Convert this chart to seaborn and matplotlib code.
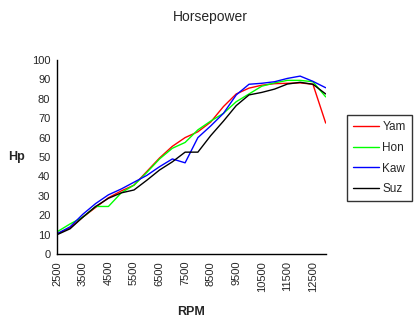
import matplotlib
matplotlib.use("Agg")
import matplotlib.pyplot as plt
import seaborn as sns
import pandas as pd

rpm = [2500, 3000, 3500, 4000, 4500, 5000, 5500, 6000, 6500, 7000, 7500,
       8000, 8500, 9000, 9500, 10000, 10500, 11000, 11500, 12000, 12500, 13000]
yam = [10.5, 13.5, 19, 24, 29, 32.5, 35.5, 42.5, 49.5, 55.5, 60,
       63, 68, 76, 82.5, 85.5, 87, 87.8, 88, 88.2, 87.5, 67.5]
hon = [11.5, 15.5, 19, 24.5, 24.5, 31.5, 35.5, 42, 49, 54.5, 57.5,
       64, 68.5, 72.5, 78.5, 82.5, 86.5, 88.2, 89.5, 89.5, 88.8, 81]
kaw = [10.5, 14, 20.5, 26, 30.5, 33.5, 37, 40.5, 45, 49, 47,
       60, 66, 72.5, 82, 87.5, 88, 88.8, 90.5, 91.7, 89, 85.7]
suz = [10, 13, 19, 24.5, 28.7, 31.5, 33, 38, 43.3, 47.5, 52.5,
       52.5, 61, 68.5, 76.5, 82, 83.3, 85, 87.6, 88.5, 87.5, 82.5]
series = ["Yam", "Hon", "Kaw", "Suz"]
colors = ["#FF0000", "#00FF00", "#0000FF", "#000000"]

rows = []
for name, vals in zip(series, [yam, hon, kaw, suz]):
    for r, v in zip(rpm, vals):
        rows.append({"RPM": r, "Hp": v, "Series": name})
df = pd.DataFrame(rows)

sns.set_style("white")
plt.rcParams['font.family'] = ['Liberation Sans', 'DejaVu Sans']

fig = plt.figure(figsize=(4.19, 3.23), dpi=100)
ax = fig.add_axes([57.3 / 419, 69 / 323, (325.7 - 57.3) / 419, 194 / 323])

sns.lineplot(data=df, x="RPM", y="Hp", hue="Series", hue_order=series,
             palette=dict(zip(series, colors)), linewidth=1.0, ax=ax,
             legend=False)

ax.set_xlim(rpm[0], rpm[-1])
ax.set_ylim(0, 100)
ax.set_xticks(rpm)
ax.set_xticklabels([str(r) if i % 2 == 0 else "" for i, r in enumerate(rpm)],
                   rotation=90, fontsize=8)
ax.set_yticks(range(0, 101, 10))
ax.set_yticklabels([str(v) for v in range(0, 101, 10)], fontsize=8)
ax.tick_params(axis="both", direction="inout", length=6, width=1,
               color="black", pad=2)
for s in ["top", "right"]:
    ax.spines[s].set_visible(False)
for s in ["left", "bottom"]:
    ax.spines[s].set_color("black")
    ax.spines[s].set_linewidth(1)

ax.set_xlabel("")
ax.set_ylabel("")
fig.text(191 / 419, 1 - 312 / 323, "RPM", ha="center", va="center",
         fontsize=9, fontweight="bold")
fig.text(16 / 419, 1 - 157 / 323, "Hp", ha="center", va="center",
         fontsize=9, fontweight="bold")
fig.text(210 / 419, 1 - 17 / 323, "Horsepower", ha="center", va="center",
         fontsize=10)

handles = [plt.Line2D([], [], color=c, lw=1) for c in colors]
leg = fig.legend(handles, series, loc="upper left",
                 bbox_to_anchor=(347 / 419, 1 - 115 / 323),
                 fontsize=8.5, frameon=True, fancybox=False,
                 handlelength=2.2, handletextpad=0.3, borderpad=0.5,
                 labelspacing=0.75, borderaxespad=0)
leg.get_frame().set_edgecolor("black")
leg.get_frame().set_linewidth(1)

fig.savefig("out.png", dpi=100)
